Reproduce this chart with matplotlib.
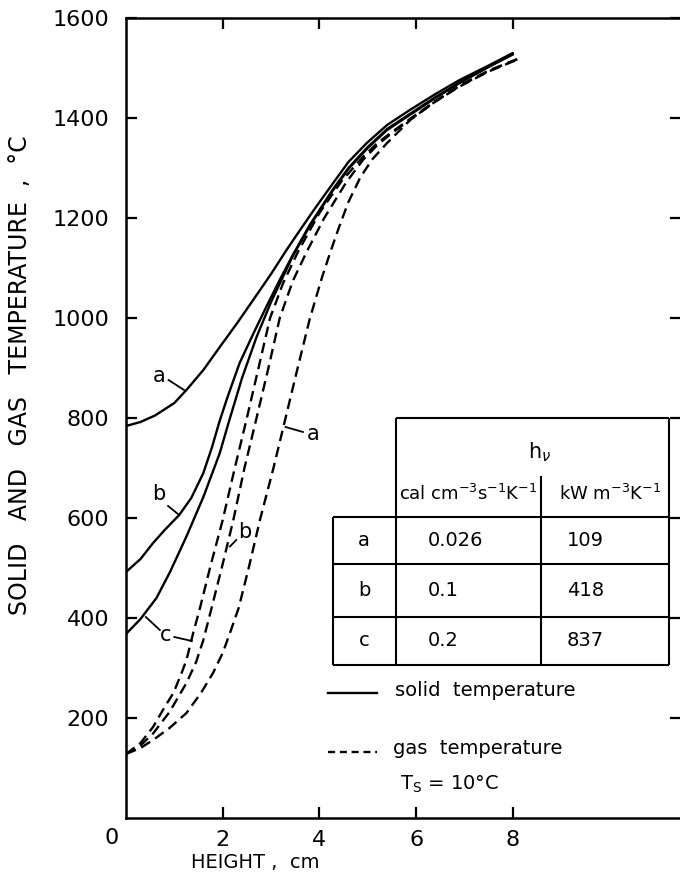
import matplotlib
matplotlib.use("Agg")
import matplotlib.pyplot as plt

plt.rcParams['font.family'] = ['DejaVu Sans']
plt.rcParams['mathtext.fontset'] = 'dejavusans'

# ---- data ----
solid_a_x = [0.0, 0.3, 0.6, 1.0, 1.25, 1.6, 1.94, 2.3, 2.63, 3.0, 3.32, 3.6, 3.9, 4.27, 4.6, 4.98, 5.4, 5.87, 6.4, 6.9, 7.5, 8.0]
solid_a_y = [784, 792, 805, 830, 856, 896, 942, 990, 1036, 1088, 1136, 1176, 1218, 1268, 1312, 1350, 1386, 1416, 1448, 1476, 1505, 1530]

solid_b_x = [0.0, 0.3, 0.56, 0.8, 1.1, 1.35, 1.6, 1.78, 1.93, 2.1, 2.35, 2.63, 2.9, 3.2, 3.45, 3.8, 4.27, 4.6, 5.0, 5.4, 5.9, 6.4, 6.9, 7.5, 8.0]
solid_b_y = [492, 518, 550, 576, 606, 640, 690, 742, 792, 842, 910, 968, 1022, 1080, 1126, 1186, 1256, 1300, 1342, 1378, 1410, 1442, 1471, 1503, 1528]

solid_c_x = [0.0, 0.3, 0.63, 0.91, 1.25, 1.6, 1.94, 2.12, 2.4, 2.7, 3.0, 3.45, 3.8, 4.27, 4.6, 5.0, 5.4, 5.9, 6.4, 6.9, 7.5, 8.0]
solid_c_y = [368, 398, 440, 492, 563, 642, 730, 790, 880, 962, 1032, 1124, 1184, 1254, 1298, 1340, 1376, 1408, 1440, 1470, 1502, 1527]

gas_a_x = [0.0, 0.3, 0.56, 0.9, 1.25, 1.55, 1.8, 2.0, 2.15, 2.33, 2.55, 2.77, 3.05, 3.3, 3.55, 3.8, 4.05, 4.22, 4.4, 4.6, 4.85, 5.1, 5.4, 5.9, 6.4, 6.9, 7.5, 8.1]
gas_a_y = [128, 140, 156, 180, 210, 250, 290, 330, 370, 420, 505, 596, 700, 800, 900, 998, 1080, 1130, 1180, 1232, 1282, 1318, 1350, 1398, 1433, 1463, 1493, 1517]

gas_b_x = [0.0, 0.3, 0.56, 0.9, 1.25, 1.45, 1.6, 1.77, 2.0, 2.22, 2.45, 2.7, 2.95, 3.18, 3.45, 3.74, 4.1, 4.56, 4.9, 5.2, 5.5, 5.9, 6.4, 6.9, 7.5, 8.1]
gas_b_y = [128, 145, 169, 212, 270, 312, 356, 420, 508, 596, 700, 800, 902, 1000, 1074, 1133, 1200, 1272, 1316, 1346, 1370, 1398, 1433, 1464, 1494, 1518]

gas_c_x = [0.0, 0.3, 0.56, 0.8, 0.98, 1.15, 1.25, 1.39, 1.53, 1.75, 2.0, 2.25, 2.5, 2.75, 2.98, 3.25, 3.56, 4.0, 4.46, 4.9, 5.2, 5.5, 5.9, 6.4, 6.9, 7.5, 8.1]
gas_c_y = [128, 150, 182, 222, 250, 290, 316, 370, 420, 505, 596, 700, 800, 904, 1000, 1070, 1133, 1210, 1274, 1322, 1350, 1372, 1400, 1434, 1465, 1495, 1518]

y_ticks = [200, 400, 600, 800, 1000, 1200, 1400, 1600]
x_ticks = [2, 4, 6, 8]

table_rows = ['a', 'b', 'c']
hv_cal = ['0.026', '0.1', '0.2']
hv_kw = ['109', '418', '837']

# ---- figure ----
W, H = 680, 893
fig = plt.figure(figsize=(W / 100, H / 100), dpi=100)
ax = fig.add_axes([126 / W, (H - 818) / H, (681 - 126) / W, 800 / H])
ax.set_xlim(0, 555 / 48.35)
ax.set_ylim(0, 1600)

lw = 1.7
for xs, ys in [(solid_a_x, solid_a_y), (solid_b_x, solid_b_y), (solid_c_x, solid_c_y)]:
    ax.plot(xs, ys, color='black', lw=lw, solid_capstyle='round')
for xs, ys in [(gas_a_x, gas_a_y), (gas_b_x, gas_b_y), (gas_c_x, gas_c_y)]:
    ax.plot(xs, ys, color='black', lw=lw, dashes=(4.5, 2.5))

# axes styling
for s in ['left', 'bottom', 'top']:
    ax.spines[s].set_linewidth(1.8)
ax.spines['right'].set_visible(False)
ax.set_yticks(y_ticks)
ax.set_yticklabels([str(v) for v in y_ticks])
ax.set_xticks(x_ticks)
ax.set_xticklabels([str(v) for v in x_ticks])
ax.tick_params(axis='both', direction='in', length=8, width=1.6, labelsize=16,
               top=True, right=True)
ax.tick_params(axis='y', pad=12)
ax.tick_params(axis='x', pad=9)
ax.text(-0.29, -40, '0', ha='center', va='center', fontsize=16, clip_on=False)

fig.text(20 / W, 1 - 375 / H, 'SOLID   AND   GAS   TEMPERATURE  ,  °C', rotation=90,
         ha='center', va='center', fontsize=17)
fig.text(255 / W, 1 - 862 / H, 'HEIGHT ,  cm', ha='center', va='center', fontsize=14)

# curve labels
fs = 15
def lab(tx, ty, s, x0, y0, x1, y1):
    if s:
        ax.text(tx, ty, s, ha='center', va='center', fontsize=fs)
    ax.plot([x0, x1], [y0, y1], color='black', lw=1.3)

lab(0.68, 885, 'a', 0.88, 876, 1.2, 856)
lab(0.68, 648, 'b', 0.87, 624, 1.1, 606)
lab(0.82, 366, 'c', 0.41, 402, 0.7, 376)
lab(1.0, 358, '', 1.0, 362, 1.36, 354)
lab(2.45, 572, 'b', 2.28, 556, 2.15, 543)
lab(3.86, 768, 'a', 3.66, 772, 3.3, 782)

# table (in data coords derived from pixel layout)
def px2d(px, py):
    return ((px - 126) / 48.35, (818 - py) * 2)

def hline(x0, x1, py):
    a = px2d(x0, py); b = px2d(x1, py)
    ax.plot([a[0], b[0]], [a[1], b[1]], color='black', lw=1.5, solid_capstyle='butt')

def vline(px, y0, y1):
    a = px2d(px, y0); b = px2d(px, y1)
    ax.plot([a[0], b[0]], [a[1], b[1]], color='black', lw=1.5, solid_capstyle='butt')

hline(396, 669, 418)
hline(333, 669, 517)
hline(333, 669, 564)
hline(333, 669, 617)
hline(333, 669, 665)
vline(333, 517, 665)
vline(396, 418, 665)
vline(541, 476, 665)
vline(669, 418, 665)

def t(px, py, s, ha='center', size=14):
    x, y = px2d(px, py)
    ax.text(x, y, s, ha=ha, va='center', fontsize=size)

t(540, 452, r'h$_\nu$', size=15)
t(468, 494, r'cal cm$^{-3}$s$^{-1}$K$^{-1}$', size=13)
t(610, 494, r'kW m$^{-3}$K$^{-1}$', size=13)
row_py = [540, 590, 641]
for r, c1, c2, py in zip(table_rows, hv_cal, hv_kw, row_py):
    t(364, py, r, size=14)
    t(428, py, c1, ha='left', size=14)
    t(567, py, c2, ha='left', size=14)

# legend
a = px2d(328, 693); b = px2d(377, 693)
ax.plot([a[0], b[0]], [a[1], b[1]], color='black', lw=1.7)
a = px2d(328, 752); b = px2d(377, 752)
ax.plot([a[0], b[0]], [a[1], b[1]], color='black', lw=1.7, dashes=(3, 2))
t(395, 691, 'solid  temperature', ha='left', size=14)
t(393, 748, 'gas  temperature', ha='left', size=14)
t(400, 784, r'T$_\mathrm{S}$ = 10°C', ha='left', size=14)

fig.savefig('out.png', dpi=100)
